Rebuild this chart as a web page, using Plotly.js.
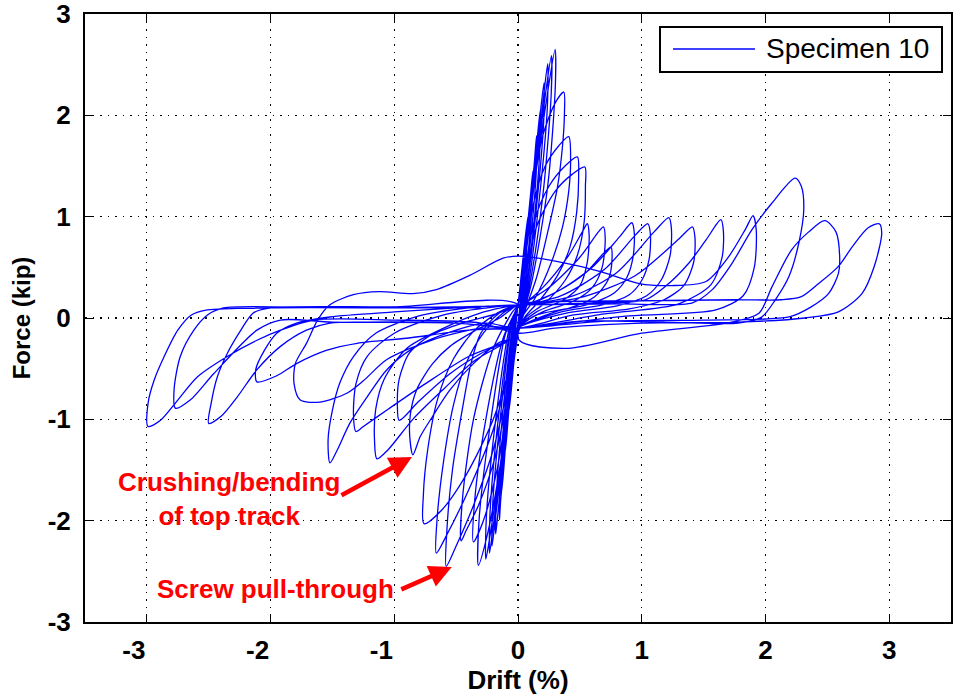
<!DOCTYPE html>
<html>
<head>
<meta charset="utf-8">
<script src="https://cdn.plot.ly/plotly-3.0.1.min.js"></script>
<style>html,body{margin:0;padding:0;background:#fff;}#chart{width:954px;height:696px;}</style>
</head>
<body>
<div id="chart"></div>
<script>
// Hysteresis path of Specimen 10 as [drift %, force kip] pairs, one cycle per array.
const cycle01 = [[0,0.13],[0.02,0.3],[0.04,0.5],[0.035,0.35],[0.015,0.1],[0,-0.05],[-0.02,-0.25],[-0.04,-0.5],[-0.035,-0.35],[-0.015,-0.05],[0,0.13]];
const cycle02 = [[0.02,0.35],[0.05,0.7],[0.08,1.0],[0.075,0.75],[0.04,0.3],[0.01,0.0],[0,-0.1],[-0.03,-0.4],[-0.07,-0.9],[-0.065,-0.65],[-0.03,-0.2],[-0.005,0.1]];
const cycle03 = [[0.01,0.2],[0.05,0.6],[0.1,1.2],[0.12,1.45],[0.115,1.15],[0.07,0.5],[0.02,0.05],[0,-0.15],[-0.03,-0.4],[-0.07,-0.85],[-0.10,-1.3],[-0.095,-1.0],[-0.05,-0.35],[-0.01,0.08],[0,0.13]];
const cycle04 = [[0.03,0.35],[0.08,0.9],[0.13,1.5],[0.15,1.8],[0.148,1.45],[0.1,0.75],[0.04,0.15],[0,-0.15],[-0.04,-0.5],[-0.09,-1.1],[-0.13,-1.7],[-0.125,-1.35],[-0.08,-0.6],[-0.02,0.05],[0,0.13]];
const cycle05 = [[0.03,0.35],[0.09,1.0],[0.15,1.7],[0.18,2.05],[0.178,1.7],[0.13,0.95],[0.06,0.25],[0,-0.15],[-0.04,-0.5],[-0.1,-1.25],[-0.14,-1.8],[-0.15,-1.99],[-0.145,-1.6],[-0.1,-0.8],[-0.03,0.0],[0,0.13]];
const cycle06 = [[0.04,0.45],[0.1,1.1],[0.17,1.9],[0.21,2.32],[0.208,1.95],[0.15,1.1],[0.07,0.3],[0,-0.15],[-0.05,-0.6],[-0.11,-1.3],[-0.16,-1.9],[-0.18,-2.13],[-0.175,-1.75],[-0.12,-0.9],[-0.04,-0.05],[0,0.13]];
const cycle07 = [[0.04,0.45],[0.11,1.2],[0.19,2.0],[0.24,2.51],[0.238,2.1],[0.17,1.15],[0.08,0.3],[0,-0.15],[-0.05,-0.6],[-0.12,-1.35],[-0.18,-1.95],[-0.21,-2.25],[-0.205,-1.85],[-0.14,-0.95],[-0.05,-0.05],[0,0.13]];
const cycle08 = [[0.04,0.45],[0.12,1.25],[0.21,2.1],[0.27,2.59],[0.268,2.2],[0.2,1.2],[0.09,0.3],[0,-0.15],[-0.05,-0.6],[-0.13,-1.4],[-0.2,-2.05],[-0.23,-2.32],[-0.225,-1.9],[-0.16,-1.0],[-0.06,-0.1],[0,0.13]];
const cycle09 = [[0.05,0.5],[0.13,1.3],[0.23,2.15],[0.3,2.65],[0.302,2.3],[0.24,1.3],[0.11,0.35],[0,-0.15],[-0.05,-0.6],[-0.14,-1.45],[-0.22,-2.1],[-0.26,-2.38],[-0.255,-1.95],[-0.18,-1.0],[-0.07,-0.1],[0,0.13]];
const cycle10 = [[0.04,0.45],[0.12,1.25],[0.2,1.8],[0.3,2.12],[0.37,2.23],[0.375,2.0],[0.36,1.7],[0.32,1.3],[0.25,0.9],[0.15,0.4],[0.05,0.05],[0,-0.15],[-0.05,-0.6],[-0.15,-1.5],[-0.25,-2.15],[-0.32,-2.44],[-0.315,-2.0],[-0.23,-1.1],[-0.1,-0.15],[0,0.13]];
const cycle11 = [[0.04,0.4],[0.12,1.1],[0.22,1.5],[0.33,1.7],[0.41,1.79],[0.425,1.55],[0.41,1.25],[0.36,0.9],[0.27,0.55],[0.14,0.2],[0.03,0],[0,-0.15],[-0.06,-0.65],[-0.17,-1.5],[-0.28,-2.0],[-0.36,-2.21],[-0.35,-1.8],[-0.26,-1.0],[-0.12,-0.2],[0,0.13]];
const cycle12 = [[0.04,0.35],[0.13,0.95],[0.25,1.3],[0.38,1.5],[0.48,1.59],[0.49,1.4],[0.475,1.05],[0.42,0.7],[0.32,0.42],[0.18,0.18],[0.05,0],[0,-0.15],[-0.06,-0.6],[-0.18,-1.35],[-0.32,-1.85],[-0.42,-2.1],[-0.46,-2.2],[-0.45,-1.8],[-0.36,-1.0],[-0.2,-0.3],[-0.05,0.05],[0,0.13]];
const cycle13 = [[0.05,0.35],[0.15,0.9],[0.3,1.25],[0.44,1.42],[0.54,1.49],[0.545,1.3],[0.535,0.95],[0.48,0.62],[0.38,0.37],[0.22,0.15],[0.06,0],[0,-0.15],[-0.06,-0.55],[-0.2,-1.3],[-0.36,-1.85],[-0.5,-2.25],[-0.58,-2.45],[-0.575,-2.1],[-0.53,-1.5],[-0.45,-0.9],[-0.38,-0.45],[-0.3,-0.15],[-0.15,0.05],[0,0.13]];
const cycle14 = [[0.05,0.15],[0.2,0.3],[0.4,0.6],[0.52,0.85],[0.56,0.93],[0.575,0.82],[0.56,0.55],[0.5,0.32],[0.37,0.18],[0.15,0.06],[0,-0.1],[-0.05,-0.4],[-0.2,-1.1],[-0.4,-1.7],[-0.58,-2.15],[-0.66,-2.32],[-0.655,-2.0],[-0.6,-1.4],[-0.52,-0.85],[-0.42,-0.45],[-0.28,-0.15],[-0.12,0.05],[0,0.13]];
const cycle15 = [[0.05,0.15],[0.25,0.3],[0.5,0.6],[0.65,0.85],[0.69,0.9],[0.705,0.78],[0.68,0.5],[0.6,0.3],[0.44,0.16],[0.2,0.06],[0,-0.1],[-0.05,-0.4],[-0.2,-1.0],[-0.42,-1.55],[-0.62,-1.9],[-0.76,-2.03],[-0.765,-1.75],[-0.73,-1.3],[-0.65,-0.8],[-0.52,-0.4],[-0.35,-0.12],[-0.15,0.06],[0,0.13]];
const cycle16 = [[0.05,0.12],[0.3,0.25],[0.55,0.45],[0.7,0.65],[0.75,0.7],[0.76,0.58],[0.73,0.38],[0.62,0.21],[0.42,0.1],[0.15,0.03],[0,-0.1],[-0.05,-0.2],[-0.15,-0.24],[-0.36,-0.45],[-0.55,-0.71],[-0.69,-0.97],[-0.79,-1.17],[-0.85,-1.35],[-0.875,-1.17],[-0.87,-0.95],[-0.82,-0.71],[-0.69,-0.45],[-0.55,-0.28],[-0.34,-0.12],[-0.15,0.0],[0,0.13]];
const cycle17 = [[0.05,0.13],[0.3,0.25],[0.6,0.5],[0.82,0.8],[0.92,0.94],[0.94,0.84],[0.93,0.6],[0.88,0.4],[0.78,0.25],[0.58,0.14],[0.3,0.06],[0,-0.1],[-0.05,-0.2],[-0.3,-0.35],[-0.55,-0.55],[-0.8,-0.82],[-0.96,-1.01],[-0.975,-0.85],[-0.96,-0.6],[-0.88,-0.35],[-0.72,-0.18],[-0.45,-0.05],[-0.15,0.05],[0,0.13]];
const cycle18 = [[0.05,0.13],[0.35,0.22],[0.7,0.48],[0.95,0.82],[1.05,0.93],[1.07,0.83],[1.06,0.58],[1.0,0.37],[0.9,0.23],[0.68,0.13],[0.35,0.06],[0,-0.1],[-0.05,-0.2],[-0.35,-0.42],[-0.6,-0.7],[-0.85,-1.0],[-1.05,-1.3],[-1.14,-1.39],[-1.16,-1.2],[-1.15,-0.9],[-1.08,-0.6],[-0.9,-0.3],[-0.6,-0.1],[-0.3,0.05],[0,0.13]];
const cycle19 = [[0.05,0.13],[0.45,0.22],[0.8,0.45],[1.1,0.85],[1.22,0.99],[1.24,0.88],[1.23,0.62],[1.16,0.38],[1.04,0.22],[0.8,0.12],[0.4,0.05],[0,-0.1],[-0.05,-0.2],[-0.4,-0.38],[-0.75,-0.65],[-1.05,-0.9],[-1.25,-1.07],[-1.31,-1.12],[-1.33,-0.95],[-1.31,-0.65],[-1.22,-0.38],[-1.0,-0.15],[-0.6,0.03],[-0.25,0.1],[0,0.13]];
const cycle20 = [[0.05,0.13],[0.5,0.2],[0.95,0.42],[1.3,0.78],[1.41,0.9],[1.43,0.8],[1.42,0.55],[1.34,0.32],[1.18,0.18],[0.9,0.09],[0.45,0.03],[0,-0.1],[-0.26,-0.05],[-0.55,-0.14],[-0.85,-0.3],[-1.06,-0.51],[-1.22,-0.78],[-1.36,-1.04],[-1.46,-1.3],[-1.52,-1.43],[-1.535,-1.2],[-1.5,-0.91],[-1.44,-0.64],[-1.33,-0.38],[-1.15,-0.15],[-0.8,0.02],[-0.4,0.1],[0,0.13]];
const cycle21 = [[0.05,0.13],[0.6,0.15],[1.03,0.18],[1.19,0.31],[1.38,0.54],[1.52,0.77],[1.64,0.97],[1.66,0.86],[1.65,0.6],[1.56,0.33],[1.3,0.14],[0.7,0.04],[0,-0.1],[-0.3,-0.1],[-0.7,-0.22],[-1.06,-0.41],[-1.25,-0.62],[-1.38,-0.74],[-1.6,-0.83],[-1.76,-0.81],[-1.81,-0.65],[-1.8,-0.45],[-1.71,-0.25],[-1.62,-0.02],[-1.52,0.13],[-1.33,0.23],[-1.12,0.26],[-0.85,0.24],[-0.66,0.28],[-0.39,0.42],[-0.12,0.59],[0.01,0.61],[0.39,0.54],[0.66,0.46],[0.98,0.34],[1.24,0.32],[1.52,0.36],[1.7,0.6],[1.84,0.88]];
const cycle22 = [[1.9,1.01],[1.925,0.88],[1.91,0.5],[1.82,0.22],[1.6,0.08],[0.9,0.02],[0,-0.1],[-0.4,-0.12],[-0.9,-0.2],[-1.3,-0.25],[-1.55,-0.32],[-1.79,-0.45],[-1.95,-0.57],[-2.11,-0.63],[-2.12,-0.51],[-2.05,-0.32],[-1.95,-0.15],[-1.79,-0.05],[-1.52,0.01],[-1.0,0.06],[-0.5,0.1],[0,0.13]];
const cycle23 = [[0.05,0.13],[0.8,0.14],[1.41,0.15],[1.57,0.28],[1.73,0.54],[1.89,0.87],[2.05,1.13],[2.24,1.38],[2.29,1.3],[2.31,1.07],[2.27,0.74],[2.19,0.41],[2.08,0.18],[1.97,0.01],[1.78,-0.05],[1.2,-0.04],[0.5,-0.03],[0,-0.1],[-0.5,-0.05],[-1.2,-0.04],[-1.52,-0.05],[-1.71,-0.12],[-1.92,-0.28],[-2.11,-0.51],[-2.27,-0.78],[-2.40,-0.97],[-2.50,-1.04],[-2.48,-0.84],[-2.43,-0.58],[-2.35,-0.35],[-2.24,-0.12],[-2.14,0.05],[-2.0,0.10],[-1.0,0.11],[0,0.13]];
const cycle24 = [[0.01,-0.22],[0.39,-0.30],[1.0,-0.15],[1.73,-0.04],[1.95,0.05],[2.05,0.3],[2.21,0.67],[2.35,0.85],[2.48,0.96],[2.57,0.85],[2.60,0.61],[2.59,0.44],[2.51,0.24],[2.37,0.11],[2.19,0.01],[1.5,-0.02],[0.7,-0.03],[0,-0.1],[-0.5,-0.05],[-1.5,-0.04],[-1.92,-0.02],[-2.11,-0.12],[-2.46,-0.55],[-2.65,-0.81],[-2.77,-0.89],[-2.78,-0.71],[-2.73,-0.38],[-2.62,-0.12],[-2.51,0.03],[-2.38,0.10],[-1.5,0.1],[-0.5,0.11],[0,0.13]];
const cycle25 = [[0.05,0.15],[1.0,0.17],[1.78,0.18],[2.13,0.18],[2.29,0.21],[2.43,0.34],[2.59,0.51],[2.70,0.70],[2.83,0.89],[2.92,0.93],[2.94,0.84],[2.88,0.51],[2.78,0.24],[2.59,0.06],[2.32,0.0],[1.78,-0.04],[1.0,-0.05],[0.3,-0.1],[0,-0.15],[-0.3,-0.05],[-1.0,-0.02],[-1.65,-0.02],[-1.92,-0.12],[-2.11,-0.22],[-2.35,-0.38],[-2.59,-0.58],[-2.75,-0.81],[-2.89,-1.01],[-2.99,-1.07],[-2.99,-0.84],[-2.94,-0.61],[-2.86,-0.38],[-2.75,-0.12],[-2.64,0.03],[-2.51,0.08],[-2.0,0.1],[-1.0,0.1],[-0.3,0.1]];

const cycles = [cycle01,cycle02,cycle03,cycle04,cycle05,cycle06,cycle07,cycle08,cycle09,cycle10,
                cycle11,cycle12,cycle13,cycle14,cycle15,cycle16,cycle17,cycle18,cycle19,cycle20,
                cycle21,cycle22,cycle23,cycle24,cycle25];

const tickValues = [-3,-2,-1,0,1,2,3];
const xTickLabels = ['-3\u2003','-2\u2003','-1\u2003','0','1','2','3'];
const yTickLabels = ['-3','-2','-1','0','1','2','3'];
const seriesName = 'Specimen 10';

const drift = [], force = [];
cycles.forEach(c => c.forEach(p => { drift.push(p[0]); force.push(p[1]); }));

const FONT = 'Liberation Sans, Arial, sans-serif';

const trace = {
  x: drift, y: force, type: 'scatter', mode: 'lines', name: seriesName,
  line: {color: '#0000ff', width: 1.3, shape: 'spline', smoothing: 0.8},
  showlegend: false, hoverinfo: 'skip'
};

const axisCommon = {
  showgrid: true, gridcolor: '#000', griddash: '1.5px,6px', gridwidth: 1.2,
  zeroline: false, showline: true, linecolor: '#000', linewidth: 2, mirror: 'ticks',
  ticks: 'inside', ticklen: 8, tickcolor: '#000', tickwidth: 1,
  tickmode: 'array', tickvals: tickValues, ticklabeloverflow: 'allow',
  tickfont: {family: FONT, size: 26, color: '#000', weight: 'bold'}
};

const layout = {
  width: 954, height: 696,
  margin: {l: 85, r: 3, t: 14, b: 74},
  paper_bgcolor: '#fff', plot_bgcolor: '#fff',
  showlegend: false,
  xaxis: Object.assign({}, axisCommon, {
    range: [-3.5, 3.5], ticktext: xTickLabels, ticklabelstandoff: 4,
    title: {text: 'Drift (%)', font: {family: FONT, size: 26, color: '#000', weight: 'bold'}, standoff: 4}
  }),
  yaxis: Object.assign({}, axisCommon, {
    range: [-3, 3], ticktext: yTickLabels, ticklabelstandoff: 7,
    title: {text: 'Force (kip)', font: {family: FONT, size: 24, color: '#000', weight: 'bold'}, standoff: 10}
  }),
  shapes: [
    {type: 'rect', xref: 'paper', yref: 'paper', x0: (660-85)/866, x1: (942-85)/866, y0: (622-72)/608, y1: (622-27)/608,
     line: {color: '#000', width: 2}, fillcolor: '#fff'},
    {type: 'line', xref: 'paper', yref: 'paper', x0: (673-85)/866, x1: (755-85)/866, y0: (622-49)/608, y1: (622-49)/608,
     line: {color: '#0000ff', width: 1.3}}
  ],
  annotations: [
    {xref: 'paper', yref: 'paper', x: (764-85)/866, y: (622-49)/608, xanchor: 'left', yanchor: 'middle',
     text: seriesName, showarrow: false, font: {family: FONT, size: 28, color: '#000'}},
    {x: -2.339, y: -1.79, xref: 'x', yref: 'y', text: 'Crushing/bending<br>of top track', showarrow: false,
     font: {family: FONT, size: 26, color: '#ff0000', weight: 'bold'}, align: 'center'},
    {x: -0.857, y: -1.372, xref: 'x', yref: 'y', text: '', showarrow: true, ax: -72, ay: 39,
     arrowcolor: '#ff0000', arrowwidth: 4.5, arrowhead: 2, arrowsize: 1.0},
    {x: -1.96, y: -2.675, xref: 'x', yref: 'y', text: 'Screw pull-through', showarrow: false,
     font: {family: FONT, size: 26, color: '#ff0000', weight: 'bold'}},
    {x: -0.535, y: -2.458, xref: 'x', yref: 'y', text: '', showarrow: true, ax: -52, ay: 23,
     arrowcolor: '#ff0000', arrowwidth: 4.5, arrowhead: 2, arrowsize: 1.0}
  ]
};

Plotly.newPlot('chart', [trace], layout, {displayModeBar: false, staticPlot: true});
</script>
</body>
</html>
